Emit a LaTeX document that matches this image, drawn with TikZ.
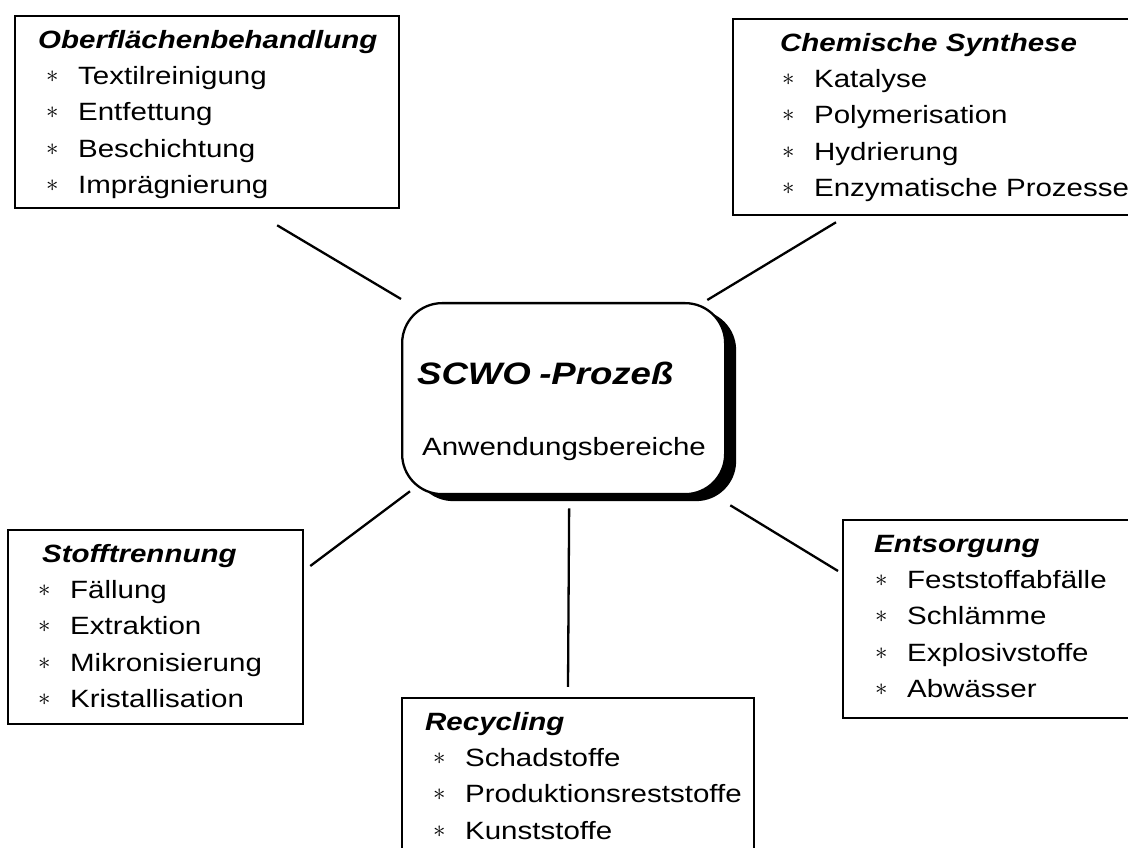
\documentclass[tikz,border=0pt]{standalone}
\usepackage{fontspec}
\setmainfont{Liberation Sans}[FakeStretch=1.18]
\usetikzlibrary{positioning,shadows}
\tikzset{block/.style={draw, line width=2.3pt, anchor=north west, inner xsep=0pt, inner ysep=12pt, text height=20pt, align=left, font=\fontsize{25}{36.4}\selectfont},
  hub/.style={draw, line width=2.3pt, rounded corners=40pt, fill=white, drop shadow={shadow xshift=11pt, shadow yshift=-7pt, opacity=1, fill=black}, anchor=north west, inner sep=0pt, align=left, font=\fontsize{25}{71}\selectfont},
  line/.style={line width=2.3pt}}
\newcommand{\kopf}[2]{\hspace*{#1}\textbf{\textit{#2}}}
\newcommand{\punkt}[2]{\hspace*{#1}\makebox[32pt][l]{\raisebox{2pt}{\fontsize{24}{24}\selectfont$\ast$}}#2}

\begin{document}
\begin{tikzpicture}[x=1pt,y=1pt]
    \useasboundingbox (0,0) rectangle (1128,848);
    \node[hub, text width=323pt, text height=81pt, text depth=110pt] (scwo) at (401,546)
        {\hspace*{15pt}{\fontsize{31}{31}\selectfont\bfseries\itshape SCWO -Prozeß}\\ \hspace*{20pt}Anwendungsbereiche};

    \node[block, text width=384pt, text depth=148pt] (ober) at (14,833)
        {\kopf{23pt}{Oberflächenbehandlung}\\ \punkt{31pt}{Textilreinigung}\\ \punkt{31pt}{Entfettung}\\ \punkt{31pt}{Beschichtung}\\ \punkt{31pt}{Imprägnierung}};
    \node[block, text width=410pt, text depth=152pt] (chem) at (732,830)
        {\kopf{47pt}{Chemische Synthese}\\ \punkt{49pt}{Katalyse}\\ \punkt{49pt}{Polymerisation}\\ \punkt{49pt}{Hydrierung}\\ \punkt{49pt}{Enzymatische Prozesse}};
    \node[block, text width=295pt, text depth=150pt] (stoff) at (7,319)
        {\kopf{34pt}{Stofftrennung}\\ \punkt{30pt}{Fällung}\\ \punkt{30pt}{Extraktion}\\ \punkt{30pt}{Mikronisierung}\\ \punkt{30pt}{Kristallisation}};
    \node[block, text width=300pt, text depth=154pt] (ents) at (842,329)
        {\kopf{31pt}{Entsorgung}\\ \punkt{32pt}{Feststoffabfälle}\\ \punkt{32pt}{Schlämme}\\ \punkt{32pt}{Explosivstoffe}\\ \punkt{32pt}{Abwässer}};
    \node[block, text width=352pt, text depth=126pt] (recy) at (401,151)
        {\kopf{23pt}{Recycling}\\ \punkt{31pt}{Schadstoffe}\\ \punkt{31pt}{Produktionsreststoffe}\\ \punkt{31pt}{Kunststoffe}};

    \draw[line] ([shift={(70,-16)}]ober.south) -- ([yshift=3pt]scwo.north west);
    \draw[line] ([shift={(104,-6)}]chem.south west) -- ([shift={(-19,2)}]scwo.north east);
    \draw[line] ([shift={(6,-37)}]stoff.north east) -- ([shift={(9,4)}]scwo.south west);
    \draw[line] ([shift={(5.5,-13)}]scwo.south) -- ([shift={(167,10)}]recy.north west);
    \draw[line] ([shift={(4,-10)}]scwo.south east) -- ([shift={(-4,-52)}]ents.north west);
\end{tikzpicture}
\end{document}
